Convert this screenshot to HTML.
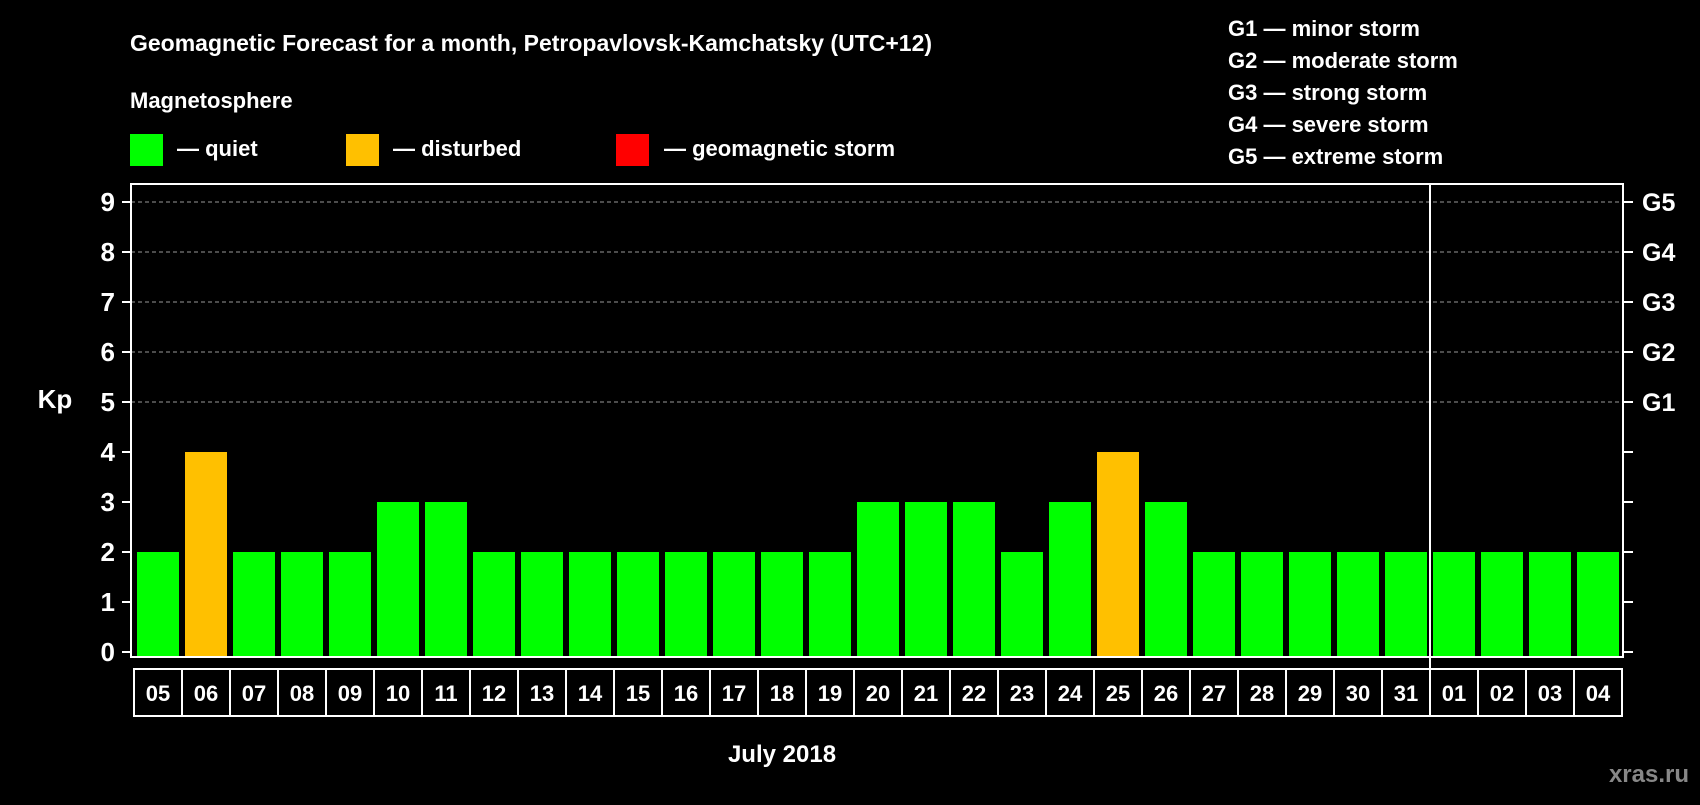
<!DOCTYPE html>
<html><head><meta charset="utf-8"><style>
body{margin:0;background:#000;width:1700px;height:800px;overflow:hidden}
svg text{font-family:"Liberation Sans",Arial,sans-serif;font-weight:bold;fill:#fff}
</style></head><body>
<svg id="chart" width="1700" height="800">
<text x="130" y="51" font-size="23">Geomagnetic Forecast for a month, Petropavlovsk-Kamchatsky (UTC+12)</text>
<text x="130" y="108" font-size="22">Magnetosphere</text>
<g><rect x="130" y="134" width="33" height="32" fill="#00ff00"/><text x="177" y="156" font-size="22">— quiet</text></g>
<g><rect x="346" y="134" width="33" height="32" fill="#ffc000"/><text x="393" y="156" font-size="22">— disturbed</text></g>
<g><rect x="616" y="134" width="33" height="32" fill="#ff0000"/><text x="664" y="156" font-size="22">— geomagnetic storm</text></g>
<g font-size="22">
<text x="1228" y="36" font-size="22">G1 — minor storm</text>
<text x="1228" y="68" font-size="22">G2 — moderate storm</text>
<text x="1228" y="100" font-size="22">G3 — strong storm</text>
<text x="1228" y="132" font-size="22">G4 — severe storm</text>
<text x="1228" y="164" font-size="22">G5 — extreme storm</text>
</g>
<text x="55" y="408" font-size="26" text-anchor="middle">Kp</text>
<text x="782" y="762" font-size="24" text-anchor="middle">July 2018</text>
<text x="1689" y="782" font-size="24" text-anchor="end" fill="#888" style="fill:#888">xras.ru</text>
<g id="plot"></g>
</svg>
<script>
const days=["05","06","07","08","09","10","11","12","13","14","15","16","17","18","19","20","21","22","23","24","25","26","27","28","29","30","31","01","02","03","04"];
const kpValues=[2,4,2,2,2,3,3,2,2,2,2,2,2,2,2,3,3,3,2,3,4,3,2,2,2,2,2,2,2,2,2];
const yTicks=[0,1,2,3,4,5,6,7,8,9];
const gLabels=["G1","G2","G3","G4","G5"];
const NS="http://www.w3.org/2000/svg";
const L=131,R=1623,T=184,B=657;
const y0=652,unit=50;
const slot=48,start=134;
function y(v){return y0-v*unit;}
function xs(i){return start+i*slot;}
const g=document.getElementById('plot');
function mk(tag,attrs){const e=document.createElementNS(NS,tag);for(const k in attrs)e.setAttribute(k,attrs[k]);g.appendChild(e);return e;}
yTicks.forEach(v=>{
  if(v>=5){const l=mk('line',{x1:L,x2:R,y1:y(v),y2:y(v),stroke:'#999','stroke-dasharray':'4 3','stroke-width':1});
  
  }
  const t=mk('line',{x1:L-9,x2:L,y1:y(v),y2:y(v),stroke:'#fff','stroke-width':2});
  
  
  const rt=mk('line',{x1:R,x2:R+10,y1:y(v),y2:y(v),stroke:'#fff','stroke-width':2});
  
  
  const tx=mk('text',{x:115,y:y(v)+9,'font-size':26,'text-anchor':'end'});tx.textContent=v;
  
  
});
gLabels.forEach((s,i)=>{const tx=mk('text',{x:1642,y:y(i+5)+9,'font-size':25});tx.textContent=s;
  
  });
kpValues.forEach((v,i)=>{
  const c=v>=5?'#ff0000':(v>=4?'#ffc000':'#00ff00');
  const r=mk('rect',{x:xs(i)+3,y:y(v),width:42,height:B-y(v)-1,fill:c});
  
  
  const bx=mk('rect',{x:xs(i),y:669,width:slot,height:47,fill:'none',stroke:'#fff','stroke-width':2});
  
  
  const t=mk('text',{x:xs(i)+slot/2,y:701,'font-size':22,'text-anchor':'middle'});t.textContent=days[i];
  
  
});
const fr=mk('rect',{x:L,y:T,width:R-L,height:B-T,fill:'none',stroke:'#fff','stroke-width':2});


const mi=days.indexOf("01");
const dv=mk('line',{x1:xs(mi),x2:xs(mi),y1:T,y2:716,stroke:'#fff','stroke-width':2});


</script>
</body></html>
